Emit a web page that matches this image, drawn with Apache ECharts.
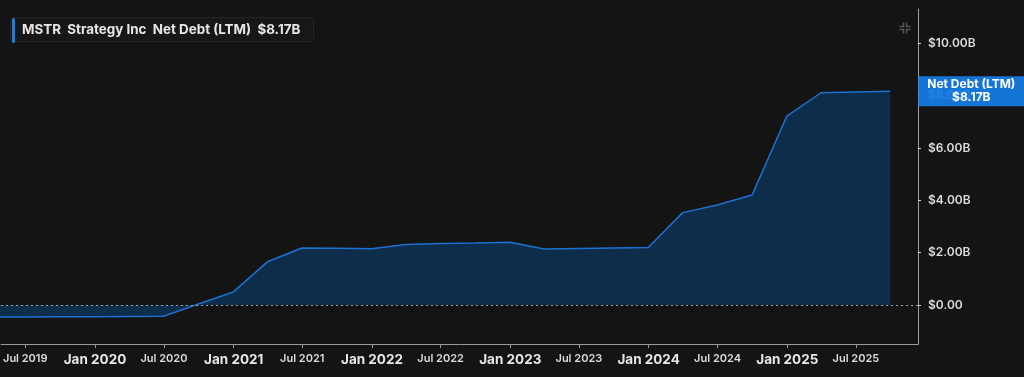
<!DOCTYPE html>
<html>
<head>
<meta charset="utf-8">
<script src="https://cdn.jsdelivr.net/npm/echarts@6/dist/echarts.min.js"></script>
<style>
html,body{margin:0;padding:0;background:#141414;}
#chart{width:1024px;height:377px;}
</style>
</head>
<body>
<div id="chart"></div>
<script>
// Quarter-end dates and Net Debt (LTM) in $B
const dates = ['2019-03-31','2019-06-30','2019-09-30','2019-12-31','2020-03-31','2020-06-30','2020-09-30','2020-12-31',
  '2021-03-31','2021-06-30','2021-09-30','2021-12-31','2022-03-31','2022-06-30','2022-09-30','2022-12-31',
  '2023-03-31','2023-06-30','2023-09-30','2023-12-31','2024-03-31','2024-06-30','2024-09-30','2024-12-31',
  '2025-03-31','2025-06-30','2025-09-30'];
const netDebt = [-0.46,-0.46,-0.45,-0.45,-0.44,-0.43,0.04,0.50,
  1.65,2.18,2.17,2.15,2.31,2.35,2.37,2.40,
  2.14,2.16,2.18,2.20,3.53,3.82,4.20,7.22,
  8.11,8.14,8.17];
const xTickDates = ['2019-07-01','2020-01-01','2020-07-01','2021-01-01','2021-07-01','2022-01-01','2022-07-01',
  '2023-01-01','2023-07-01','2024-01-01','2024-07-01','2025-01-01','2025-07-01'];
const xTickLabels = ['Jul 2019','Jan 2020','Jul 2020','Jan 2021','Jul 2021','Jan 2022','Jul 2022',
  'Jan 2023','Jul 2023','Jan 2024','Jul 2024','Jan 2025','Jul 2025'];
const yTickValues = [0,2,4,6,8,10];
const yTickLabels = ['$0.00','$2.00B','$4.00B','$6.00B','$8.00B','$10.00B'];
const ticker = 'MSTR';
const company = 'Strategy Inc';
const metric = 'Net Debt (LTM)';
const lastLabel = '$8.17B';

const ts = d => new Date(d + 'T00:00:00Z').getTime();
const xTickTs = xTickDates.map(ts);
const seriesData = dates.map((d, i) => [ts(d), netDebt[i]]);

const chart = echarts.init(document.getElementById('chart'), null, {renderer: 'canvas'});
const font = 'Inter, "Noto Sans", sans-serif';
chart.setOption({
  backgroundColor: '#141414',
  animation: false,
  textStyle: {fontFamily: font},
  title: {
    text: ticker + '  ' + company + '  ' + metric + '  ' + lastLabel,
    left: 10, top: 17,
    padding: [6, 13, 6, 12],
    backgroundColor: '#171717',
    borderColor: '#262626',
    borderWidth: 1,
    borderRadius: 3,
    textStyle: {color: '#e6e6e6', fontSize: 13.4, fontWeight: 'bold', fontFamily: font}
  },
  graphic: [
    {type: 'rect', left: 12, top: 18, shape: {width: 3, height: 25, r: 1.5}, style: {fill: '#1a7ee6'}, z: 100},
    {type: 'group', left: 897, top: 20, children: [
      {type: 'polyline', shape: {points: [[0,4],[4,4],[4,0]]}, style: {stroke: '#555', lineWidth: 1.5, fill: null}},
      {type: 'polyline', shape: {points: [[7,0],[7,4],[11,4]]}, style: {stroke: '#555', lineWidth: 1.5, fill: null}},
      {type: 'polyline', shape: {points: [[0,7],[4,7],[4,11]]}, style: {stroke: '#555', lineWidth: 1.5, fill: null}},
      {type: 'polyline', shape: {points: [[7,11],[7,7],[11,7]]}, style: {stroke: '#555', lineWidth: 1.5, fill: null}}
    ]}
  ],
  grid: {left: 0, right: 106, top: 9, bottom: 33, containLabel: false},
  xAxis: {
    type: 'value',
    min: ts('2019-04-28'),
    max: ts('2025-12-12'),
    axisLine: {show: true, onZero: false, lineStyle: {color: '#9a9a9a', width: 1}},
    axisTick: {show: true, length: 4, lineStyle: {color: '#9a9a9a'}, customValues: xTickTs},
    splitLine: {show: false},
    axisLabel: {
      customValues: xTickTs,
      margin: 9,
      color: '#e0e0e0',
      formatter: function (v) {
        const i = xTickTs.indexOf(v);
        const s = i >= 0 ? xTickLabels[i] : '';
        return s.indexOf('Jan') === 0 ? '{j|' + s + '}' : '{m|' + s + '}';
      },
      rich: {
        j: {fontSize: 13.5, fontWeight: 'bold', color: '#e6e6e6', fontFamily: font},
        m: {fontSize: 11, fontWeight: 600, color: '#dcdcdc', fontFamily: font}
      }
    }
  },
  yAxis: {
    type: 'value',
    position: 'right',
    min: -1.49,
    max: 11.31,
    axisLine: {show: true, onZero: false, lineStyle: {color: '#a0a0a0', width: 1}},
    axisTick: {show: true, length: 3, inside: false, lineStyle: {color: '#d0d0d0'}, customValues: yTickValues},
    splitLine: {show: false},
    axisLabel: {
      customValues: yTickValues,
      margin: 10,
      color: '#dcdcdc',
      fontSize: 12,
      fontWeight: 600,
      fontFamily: font,
      formatter: function (v) {
        const i = yTickValues.indexOf(v);
        return i >= 0 ? yTickLabels[i] : '';
      }
    }
  },
  series: [{
    type: 'line',
    data: seriesData,
    symbol: 'none',
    clip: true,
    lineStyle: {color: '#1b72d2', width: 1.5},
    areaStyle: {color: '#0e2d4b', opacity: 1},
    markLine: {
      silent: true,
      symbol: 'none',
      z: 10,
      label: {show: false},
      lineStyle: {color: '#a0a0a0', type: [2, 3], width: 1},
      data: [{yAxis: 0}]
    },
    endLabel: {
      show: true,
      formatter: metric + '\n' + lastLabel,
      distance: 0,
      offset: [81, 0],
      align: 'center',
      verticalAlign: 'middle',
      width: 106,
      height: 28,
      lineHeight: 13,
      padding: [1, 0, 1, 0],
      color: '#ffffff',
      fontSize: 12,
      fontWeight: 'bold',
      fontFamily: font,
      backgroundColor: 'rgba(22,125,230,0.93)'
    }
  }]
});
</script>
</body>
</html>
